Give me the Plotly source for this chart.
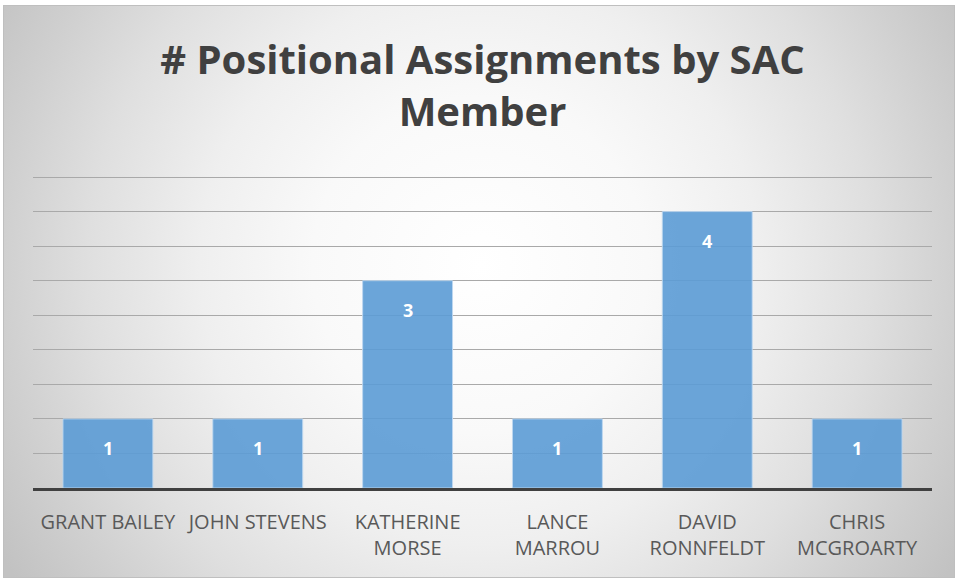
import base64
import plotly.graph_objects as go

# ---- data ----
members = ["GRANT BAILEY", "JOHN STEVENS", "KATHERINE MORSE", "LANCE MARROU",
           "DAVID RONNFELDT", "CHRIS MCGROARTY"]
tick_labels = ["GRANT BAILEY", "JOHN STEVENS", "KATHERINE<br>MORSE", "LANCE<br>MARROU",
               "DAVID<br>RONNFELDT", "CHRIS<br>MCGROARTY"]
assignments = [1, 1, 3, 1, 4, 1]
title_text = "# Positional Assignments by SAC<br>Member"

# ---- layout geometry (pixels) ----
W, H = 960, 580
ML, MR, MT, MB = 33, 28, 176, 92
PW, PH = W - ML - MR, H - MT - MB
YMAX = 4.515

# background: radial gradient chart frame as an SVG image
FX0, FY0, FX1, FY1 = 3, 5, 955, 578
fw, fh = FX1 - FX0, FY1 - FY0
svg = f'''<svg xmlns="http://www.w3.org/2000/svg" width="{fw}" height="{fh}" viewBox="0 0 {fw} {fh}">
<defs><radialGradient id="g" gradientUnits="userSpaceOnUse" cx="{480-FX0}" cy="{265-FY0}" r="560">
<stop offset="0" stop-color="#ffffff"/>
<stop offset="0.3" stop-color="#f9f9f9"/>
<stop offset="0.5" stop-color="#efefef"/>
<stop offset="0.7" stop-color="#dfdfdf"/>
<stop offset="0.85" stop-color="#d0d0d0"/>
<stop offset="1" stop-color="#c2c2c2"/>
</radialGradient></defs>
<rect x="0.5" y="0.5" width="{fw-1}" height="{fh-1}" fill="url(#g)" stroke="#bfbfbf" stroke-width="1"/>
</svg>'''
src = "data:image/svg+xml;base64," + base64.b64encode(svg.encode()).decode()

fig = go.Figure()
fig.add_trace(go.Bar(
    x=members, y=assignments,
    marker=dict(color="rgba(91,155,213,0.9)", line=dict(color="rgba(190,215,240,0.9)", width=1)),
    width=0.6,
    hoverinfo="skip",
))

for m, v in zip(members, assignments):
    fig.add_annotation(x=m, y=v, text=f"<b>{v}</b>", showarrow=False,
                       yanchor="middle", yshift=-29,
                       font=dict(family="Open Sans", size=18, color="white"))

fig.add_layout_image(dict(
    source=src, xref="paper", yref="paper",
    x=(FX0 - ML) / PW, y=(H - MB - FY0) / PH,
    sizex=fw / PW, sizey=fh / PH,
    xanchor="left", yanchor="top", sizing="stretch", layer="below",
))

fig.update_layout(
    width=W, height=H,
    margin=dict(l=ML, r=MR, t=MT, b=MB, pad=0),
    paper_bgcolor="white",
    plot_bgcolor="rgba(0,0,0,0)",
    showlegend=False,
    title=dict(text=title_text, x=0.5, xref="paper", xanchor="center",
               y=1 - 74 / H, yref="container", yanchor="top",
               font=dict(family="Open Sans", size=40, weight="bold", color="#404040")),
    xaxis=dict(tickmode="array", tickvals=members, ticktext=tick_labels,
               showline=True, linecolor="#404040", linewidth=3,
               ticks="", showgrid=False, fixedrange=True, ticklabelstandoff=14,
               tickfont=dict(family="Open Sans", size=20, color="#595959")),
    yaxis=dict(range=[0, YMAX], tickmode="array",
               tickvals=[0.5, 1, 1.5, 2, 2.5, 3, 3.5, 4, 4.5], showticklabels=False,
               showgrid=True, gridcolor="#a9a9a9", gridwidth=1.3,
               zeroline=False, ticks="", fixedrange=True),
)

fig.write_html("out.html", config={"displayModeBar": False},
               post_script="document.body.style.margin='0';")
